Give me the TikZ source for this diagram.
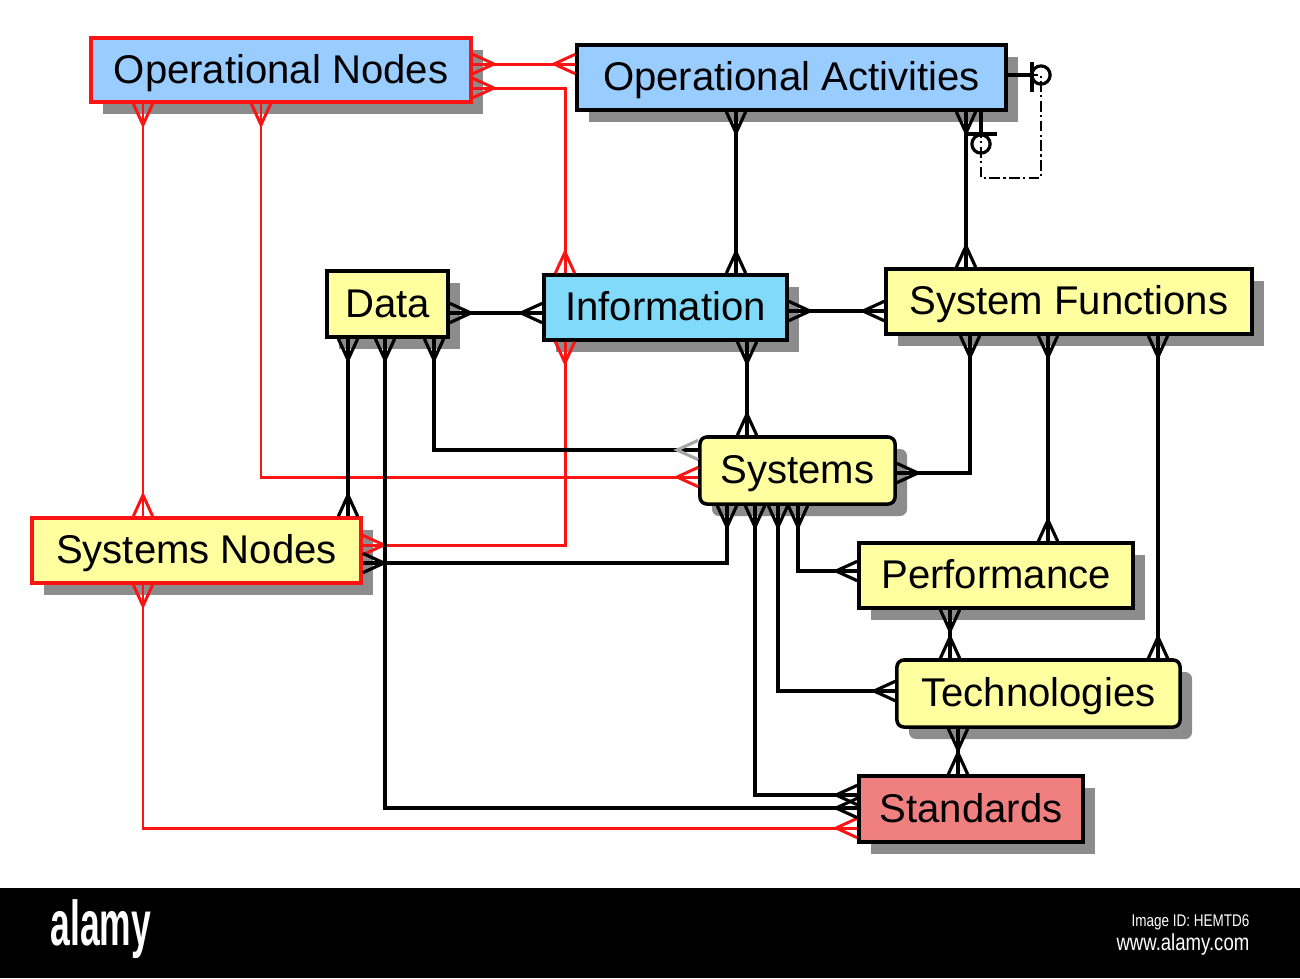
\documentclass[tikz,border=0pt]{standalone}
\usepackage{fontspec}
\setmainfont{Liberation Sans}
\newfontfamily\bandfont[FakeStretch=0.56]{Liberation Sans}
\newfontfamily\bandnarrowfont[FakeStretch=0.8]{Liberation Sans}
\usetikzlibrary{arrows.meta,shadows}
\definecolor{EntityBlue}{RGB}{153,204,255}
\definecolor{InfoCyan}{RGB}{130,218,250}
\definecolor{EntityYellow}{RGB}{255,255,160}
\definecolor{StandardPink}{RGB}{240,128,128}
\definecolor{LinkRed}{RGB}{250,20,20}
% crow's foot end (many side of a relation)
\pgfdeclarearrow{
  name = Crow,
  defaults = {length = 6pt, width = 5.5pt},
  setup code = {
    \pgfarrowssettipend{0pt}
    \pgfarrowssetlineend{0pt}
    \pgfarrowssetbackend{-\pgfarrowlength}
    \pgfarrowshullpoint{0pt}{.5\pgfarrowwidth}
    \pgfarrowshullpoint{0pt}{-.5\pgfarrowwidth}
    \pgfarrowshullpoint{-\pgfarrowlength}{0pt}
    \pgfarrowssavethe\pgfarrowlength
    \pgfarrowssavethe\pgfarrowwidth
  },
  drawing code = {
    \pgfsetdash{}{0pt}
    \pgfpathmoveto{\pgfqpoint{0pt}{.5\pgfarrowwidth}}
    \pgfpathlineto{\pgfqpoint{-\pgfarrowlength}{0pt}}
    \pgfpathlineto{\pgfqpoint{0pt}{-.5\pgfarrowwidth}}
    \pgfusepathqstroke
  },
  parameters = {\the\pgfarrowlength,\the\pgfarrowwidth},
}
\tikzset{
  entity/.style={draw=black,line width=1pt,inner sep=0pt,
    font=\fontsize{11.4}{13}\selectfont,text height=0.8em,text depth=0.05em,
    drop shadow={shadow xshift=0.12cm,shadow yshift=-0.12cm,fill=black!45,opacity=1}},
  opbox/.style={entity,fill=EntityBlue},
  infobox/.style={entity,fill=InfoCyan},
  sysbox/.style={entity,fill=EntityYellow},
  stdbox/.style={entity,fill=StandardPink},
  nodebox/.style={draw=LinkRed},
  link/.style={{Crow}-{Crow},line width=0.9pt,black},
  redlink/.style={link,LinkRed,line width=0.85pt},
  selfloop/.style={line width=0.6pt,densely dash dot},
  marker/.style={line width=0.9pt}
}

\begin{document}
\begin{tikzpicture}[x=0.01cm,y=-0.01cm]
  \useasboundingbox (0,0) rectangle (1300,978);
  % entities
  \node[opbox,nodebox,minimum width=3.8cm,minimum height=0.64cm] (on) at (281,70) {Operational Nodes};
  \node[opbox,minimum width=4.29cm,minimum height=0.65cm] (oa) at (791.5,77.5) {Operational Activities};
  \node[sysbox,minimum width=1.21cm,minimum height=0.66cm] (data) at (387.5,304) {Data};
  \node[infobox,minimum width=2.43cm,minimum height=0.65cm] (info) at (665.5,307.5) {Information};
  \node[sysbox,minimum width=3.66cm,minimum height=0.65cm] (sf) at (1069,301.5) {System Functions};
  \node[sysbox,rounded corners=2pt,minimum width=1.95cm,minimum height=0.67cm] (sys) at (797.5,470.5) {Systems};
  \node[sysbox,nodebox,minimum width=3.29cm,minimum height=0.65cm] (sn) at (196.5,550.5) {Systems Nodes};
  \node[sysbox,minimum width=2.74cm,minimum height=0.65cm] (perf) at (996,575.5) {Performance};
  \node[sysbox,rounded corners=2pt,minimum width=2.83cm,minimum height=0.67cm] (tech) at (1038.5,693.5) {Technologies};
  \node[stdbox,minimum width=2.24cm,minimum height=0.66cm] (std) at (971,809) {Standards};

  % red relations
  \draw[redlink] (on.east |- 0,64) -- (oa.west |- 0,64);
  \draw[redlink] (on.east |- 0,88) -| (info.north -| 565,0);
  \draw[redlink] (info.south -| 565,0) |- (sn.east |- 0,545);
  \draw[redlink] (on.south -| 143,0) -- (sn.north -| 143,0);
  \draw[redlink] (on.south -| 261,0) |- (sys.west |- 0,477);
  \draw[redlink] (sn.south -| 143,0) |- (std.west |- 0,828);

  % black relations
  \draw[link] (data.east |- 0,313) -- (info.west |- 0,313);
  \draw[link] (oa.south -| 736,0) -- (info.north -| 736,0);
  \draw[link] (oa.south -| 966,0) -- (sf.north -| 966,0);
  \draw[link] (info.east |- 0,311) -- (sf.west |- 0,311);
  \draw[link] (info.south -| 747,0) -- (sys.north -| 747,0);
  \draw[link,{Crow}-{Crow[color=gray!70]}] (data.south -| 434,0) |- (sys.west |- 0,450);
  \draw[link] (data.south -| 348,0) -- (sn.north -| 348,0);
  \draw[link] (data.south -| 385,0) |- (std.west |- 0,808);
  \draw[link] (sys.east |- 0,473) -| (sf.south -| 970,0);
  \draw[link] (sys.south -| 727,0) |- (sn.east |- 0,563);
  \draw[link] (sys.south -| 755,0) |- (std.west |- 0,795);
  \draw[link] (sys.south -| 778,0) |- (tech.west |- 0,691);
  \draw[link] (sys.south -| 798,0) |- (perf.west |- 0,571);
  \draw[link] (sf.south -| 1048,0) -- (perf.north -| 1048,0);
  \draw[link] (sf.south -| 1158,0) -- (tech.north -| 1158,0);
  \draw[link] (perf.south -| 950,0) -- (tech.north -| 950,0);
  \draw[link] (tech.south -| 958,0) -- (std.north -| 958,0);

  % self relation of the activities
  \coordinate (loopR) at (1041,75);
  \coordinate (loopB) at (981,178);
  \draw[selfloop] (oa.east |- loopR) -- (loopR) |- (loopB) -- (oa.south -| loopB);
  \draw[marker] (oa.east |- loopR) -- (1033,75);
  \draw[marker] (1032,62) -- (1032,92);
  \draw[marker] (loopR) circle (2.6pt);
  \draw[marker] (oa.south -| loopB) -- (981,134);
  \draw[marker] (966,134) -- (997,134);
  \draw[marker] (981,144) circle (2.6pt);

  % bottom band
  \fill[black] (0,888) rectangle (1300,978);
  \node[anchor=base west,text=white,inner sep=0pt,font=\bandfont\bfseries\fontsize{18}{20}\selectfont] (brand) at (50,945) {alamy};
  \node[anchor=base east,text=white,inner sep=0pt,font=\bandnarrowfont\fontsize{4.8}{6}\selectfont] (imageid) at (1250,926) {Image ID: HEMTD6};
  \node[anchor=base east,text=white,inner sep=0pt,font=\bandnarrowfont\fontsize{6.6}{8}\selectfont] (site) at (1250,950) {www.alamy.com};
\end{tikzpicture}
\end{document}
